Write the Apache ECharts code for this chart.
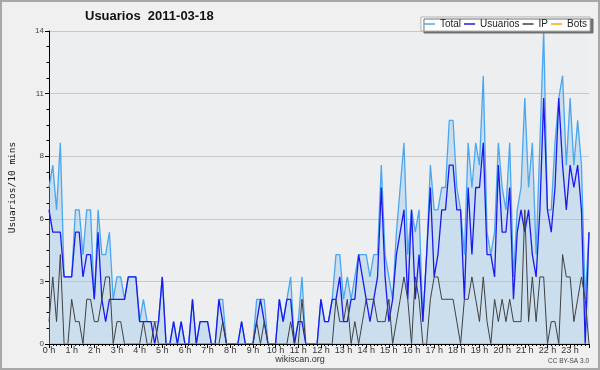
<!DOCTYPE html>
<html>
<head>
<meta charset="utf-8">
<script src="https://cdn.jsdelivr.net/npm/echarts@6/dist/echarts.min.js"></script>
<style>
html,body{margin:0;padding:0;background:#f0f0f0;}
#c{width:600px;height:370px;}
</style>
</head>
<body>
<div id="c"></div>
<script>
const hours = ['0 h','1 h','2 h','3 h','4 h','5 h','6 h','7 h','8 h','9 h','10 h','11 h','12 h','13 h','14 h','15 h','16 h','17 h','18 h','19 h','20 h','21 h','22 h','23 h'];

const total = [
7,8,6,9,3,3,3,6,6,4,
6,6,2,6,4,4,5,2,3,3,
2,3,3,3,1,2,1,1,1,1,
3,0,0,1,0,1,0,0,2,0,
1,1,1,0,0,2,2,0,0,0,
0,1,0,0,0,2,2,2,0,0,
0,2,1,2,3,0,1,3,0,0,
0,0,2,1,1,2,4,4,2,3,
2,3,4,4,4,3,4,4,8,4,
3,2,5,7,9,4,6,5,6,1,
4,8,6,6,7,7,10,10,7,6,
4,9,7,9,8,12,5,4,5,9,
7,6,9,3,6,7,11,7,9,4,
9,14,6,6,9,11,12,8,11,8,
10,8,2,5
];

const usuarios = [
6,5,5,5,3,3,3,5,5,3,
4,4,2,5,2,1,2,2,2,2,
2,3,3,3,1,1,1,1,0,1,
3,0,0,1,0,1,0,0,2,0,
1,1,1,0,0,2,1,0,0,0,
0,1,0,0,0,1,2,1,0,0,
0,2,1,2,2,0,1,1,0,0,
0,0,2,1,1,2,2,3,1,1,
2,2,4,3,2,1,2,3,7,3,
1,2,4,5,6,2,6,2,4,1,
4,7,3,4,6,6,8,8,6,6,
2,7,4,7,7,9,4,4,3,8,
5,5,7,2,5,6,5,6,4,3,
6,11,6,5,7,11,8,6,8,7,
8,6,0,5
];

const ip = [
1,3,1,4,0,0,2,1,1,0,
2,2,1,1,2,3,3,0,1,1,
0,0,0,0,0,1,0,0,1,0,
0,0,0,0,0,0,0,0,0,0,
0,0,0,0,0,0,1,0,0,0,
0,0,0,0,0,1,0,1,0,0,
0,0,0,0,1,0,0,2,0,0,
0,0,0,0,0,0,2,1,1,2,
0,1,0,1,2,2,2,1,1,1,
2,0,1,2,3,2,0,3,2,0,
0,2,3,3,2,2,2,2,1,0,
2,2,3,2,1,3,1,0,2,1,
2,1,2,1,1,1,6,1,3,1,
3,3,0,1,1,0,4,3,3,1,
2,3,2,0
];

const bots = [
0,0,0,0,0,0,0,0,0,0,0,0,0,0,0,0,0,0,0,0,0,0,0,0,
0,0,0,0,0,0,0,0,0,0,0,0,0,0,0,0,0,0,0,0,0,0,0,0,
0,0,0,0,0,0,0,0,0,0,0,0,0,0,0,0,0,0,0,0,0,0,0,0,
0,0,0,0,0,0,0,0,0,0,0,0,0,0,0,0,0,0,0,0,0,0,0,0,
0,0,0,0,0,0,0,0,0,0,0,0,0,0,0,0,0,0,0,0,0,0,0,0,
0,0,0,0,0,0,0,0,0,0,0,0,0,0,0,0,0,0,0,0,0,0,0,0
];

const yTicks = ['0','3','6','8','11','14'];

function pairs(arr){ return arr.map((v,i)=>[i,v]); }

const chart = echarts.init(document.getElementById('c'), null, {renderer:'canvas'});
const F = 'Liberation Sans, Arial, sans-serif';
chart.setOption({
  animation:false,
  backgroundColor:'#f0f0f0',
  textStyle:{fontFamily:F},
  title:{
    text:'Usuarios  2011-03-18',
    left:85, top:10, padding:0,
    textStyle:{fontFamily:F, fontSize:13, fontWeight:'bold', color:'#111'}
  },
  legend:{
    right:10, top:17,
    orient:'horizontal',
    itemWidth:11, itemHeight:1.5, itemGap:3,
    icon:'rect',
    padding:[2,3,2,3],
    backgroundColor:'#ffffff',
    borderColor:'#b0b0b0', borderWidth:1,
    shadowColor:'#707070', shadowBlur:0, shadowOffsetX:3, shadowOffsetY:2,
    textStyle:{fontFamily:F, fontSize:10, color:'#222', padding:[0,0,0,0]},
    data:['Total','Usuarios','IP','Bots']
  },
  grid:{left:46, right:11, top:31, bottom:26, show:true, backgroundColor:'#eceef0', borderWidth:0},
  xAxis:{
    type:'value', min:0, max:143, interval:6, z:10,
    axisLine:{show:true, onZero:false, lineStyle:{color:'#000', width:1}},
    axisTick:{show:true, length:4, lineStyle:{color:'#000'}},
    minorTick:{show:true, splitNumber:6, length:2, lineStyle:{color:'#000'}},
    axisLabel:{margin:2, fontSize:9, color:'#333', fontFamily:F,
      formatter:function(v){ return (v % 6 === 0 && hours[v/6]) ? hours[v/6] : ''; }},
    splitLine:{show:false}
  },
  yAxis:{
    type:'value', min:0, max:14, interval:2.8,
    name:'Usuarios/10 mins', nameLocation:'middle', nameGap:31,
    nameTextStyle:{fontFamily:'DejaVu Sans Mono', fontSize:9.5, color:'#111'},
    axisLine:{show:true, lineStyle:{color:'#000', width:1}},
    axisTick:{show:true, length:4, lineStyle:{color:'#000'}},
    minorTick:{show:true, splitNumber:4, length:2.5, lineStyle:{color:'#000'}},
    axisLabel:{margin:5, fontSize:8, color:'#444', fontFamily:F,
      formatter:function(v){ return yTicks[Math.round(v/2.8)]; }},
    splitLine:{show:true, lineStyle:{color:'#c8c8c8', width:1}}
  },
  series:[
    {name:'Total', type:'line', data:pairs(total), showSymbol:false, symbol:'none',
     lineStyle:{color:'#4aa6ee', width:1.3}, itemStyle:{color:'#4aa6ee'},
     areaStyle:{color:'rgba(140,192,236,0.5)'}},
    {name:'Usuarios', type:'line', data:pairs(usuarios), showSymbol:false, symbol:'none',
     lineStyle:{color:'#1a1aee', width:1.3}, itemStyle:{color:'#1a1aee'}},
    {name:'IP', type:'line', data:pairs(ip), showSymbol:false, symbol:'none',
     lineStyle:{color:'#404040', width:1}, itemStyle:{color:'#404040'}},
    {name:'Bots', type:'line', data:pairs(bots), showSymbol:false, symbol:'none',
     lineStyle:{color:'#ffa500', width:1}, itemStyle:{color:'#ffa500'}}
  ],
  graphic:[
    {type:'text', left:'center', top:355, style:{text:'wikiscan.org', fontFamily:F, fontSize:9, fill:'#333'}},
    {type:'text', right:11, top:358, style:{text:'CC BY-SA 3.0', fontFamily:F, fontSize:6.5, fill:'#444'}},
    {type:'rect', shape:{x:1, y:1, width:598, height:368}, style:{fill:null, stroke:'#a8a8a8', lineWidth:2}, silent:true}
  ]
});
</script>
</body>
</html>
